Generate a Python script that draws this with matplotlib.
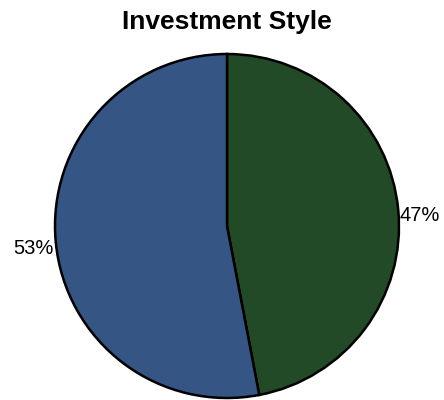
import matplotlib
matplotlib.use("Agg")
import matplotlib.pyplot as plt

categories = ["Growth", "Value"]
values = [47, 53]
colors = ["#224a27", "#355585"]
title = "Investment Style"

plt.rcParams["font.family"] = ["Liberation Sans", "DejaVu Sans"]

fig = plt.figure(figsize=(4.44, 4.00), dpi=100)
W, H = 444, 400
cx, cy, r = 227, 226, 172
ax = fig.add_axes([(cx - r) / W, (H - cy - r) / H, 2 * r / W, 2 * r / H])

total = sum(values)
labels = [f"{v / total * 100:.0f}%" for v in values]
wedges, texts = ax.pie(
    values,
    labels=labels,
    colors=colors,
    startangle=90,
    counterclock=False,
    labeldistance=1.01,
    radius=1.0,
    wedgeprops=dict(edgecolor="black", linewidth=1.8),
    textprops=dict(fontsize=14.5, color="black"),
)
for t in texts:
    x, y = t.get_position()
    t.set_position((x, y - 0.035))
    t.set_clip_on(False)
ax.set_xlim(-1, 1)
ax.set_ylim(-1, 1)
ax.set_aspect("equal")
ax.axis("off")

fig.text(cx / W, 1 - 19 / H, title, ha="center", va="center_baseline",
         fontsize=19, fontweight="bold")

fig.savefig("out.png", dpi=100)
